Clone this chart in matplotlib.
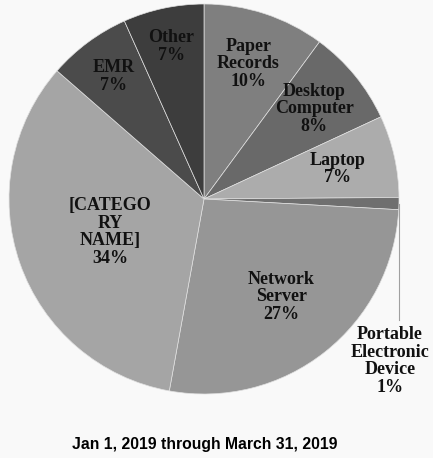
import numpy as np
import matplotlib.pyplot as plt

# Share of breaches by location, Q1 2019
categories = ['Paper\nRecords', 'Desktop\nComputer', 'Laptop', 'Portable\nElectronic\nDevice',
              'Network\nServer', '[CATEGO\nRY\nNAME]', 'EMR', 'Other']
shares = [10.1, 8.0, 6.8, 1.0, 27.0, 33.6, 6.9, 6.7]
colors = ['#7f7f7f', '#696969', '#acacac', '#6f6f6f', '#969696', '#a5a5a5', '#4b4b4b', '#3d3d3d']
label_dist = [0.73, 0.73, 0.70, None, 0.64, 0.51, 0.78, 0.80]

W, H = 433, 458
fig = plt.figure(figsize=(W / 100, H / 100), dpi=100)
fig.patch.set_facecolor('#f9f9f9')

cx, cy, r = 204, 199, 195
ax = fig.add_axes([(cx - r) / W, 1 - (cy + r) / H, 2 * r / W, 2 * r / H])
ax.set_facecolor('none')

wedges, _ = ax.pie(shares, colors=colors, startangle=90, counterclock=False,
                   wedgeprops=dict(edgecolor='#e0e0e0', linewidth=0.5))
ax.set_xlim(-1, 1)
ax.set_ylim(-1, 1)
ax.set_aspect('equal')
ax.axis('off')

total = sum(shares)
font = dict(family='Liberation Serif', weight='bold', fontsize=13,
            ha='center', va='center', linespacing=1.05, color='#111111')
for w, name, val, d in zip(wedges, categories, shares, label_dist):
    mid = np.deg2rad((w.theta1 + w.theta2) / 2)
    txt = f'{name}\n{round(val / total * 100):.0f}%'
    if d is None:
        # small slice: label outside with a leader line
        x0, y0 = np.cos(mid), np.sin(mid)
        ax.plot([x0, x0], [y0, -0.62], color='#a0a0a0', lw=0.8, clip_on=False)
        ax.text(0.954, -0.83, txt, clip_on=False, **font)
    else:
        ax.text(d * np.cos(mid), d * np.sin(mid), txt, **font)

fig.text(205 / W, 1 - 445 / H, 'Jan 1, 2019 through March 31, 2019',
         family='Liberation Sans', weight='bold', fontsize=11.3, ha='center', va='center')

fig.savefig('out.png', dpi=100, facecolor=fig.get_facecolor())
